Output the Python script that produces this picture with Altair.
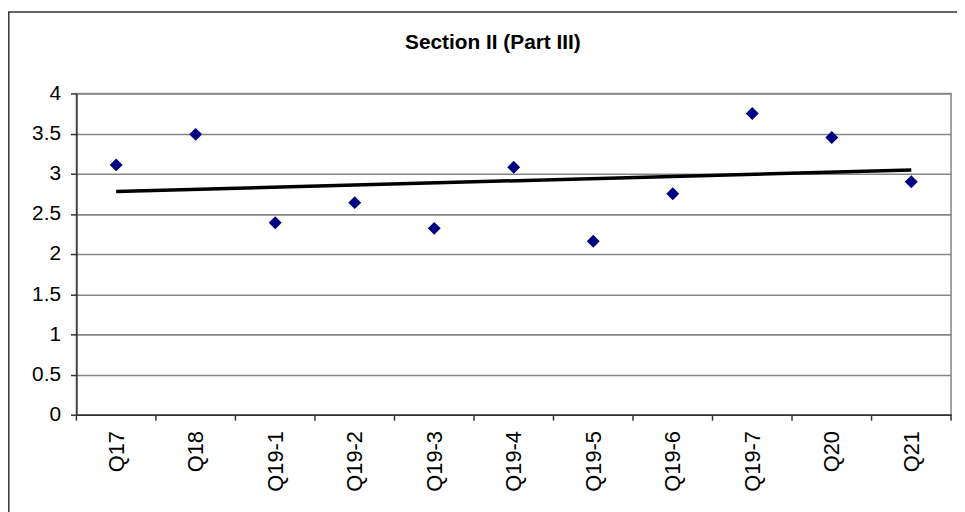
import altair as alt
import pandas as pd

# ---- data ----
categories = ["Q17", "Q18", "Q19-1", "Q19-2", "Q19-3", "Q19-4",
              "Q19-5", "Q19-6", "Q19-7", "Q20", "Q21"]
scores = [3.11, 3.49, 2.39, 2.64, 2.32, 3.08, 2.16, 2.75, 3.75, 3.45, 2.90]
y_ticks = [0, 0.5, 1, 1.5, 2, 2.5, 3, 3.5, 4]
chart_title = "Section II (Part III)"

n = len(categories)
df = pd.DataFrame({"idx": list(range(n)), "cat": categories, "score": scores})
bounds = pd.DataFrame({"b": [i - 0.5 for i in range(n + 1)]})
one = pd.DataFrame({"k": [0]})

FONT = "Liberation Sans"
DARK = "#333333"
GRID = "#868686"
W, H = 882, 324

label_expr = "[" + ",".join("'%s'" % c for c in categories) + "][datum.value]"

x_scale = alt.Scale(domain=[-0.5, n - 0.5], nice=False, zero=False)
y_scale = alt.Scale(domain=[0, 4], nice=False)

x_enc = alt.X(
    "idx:Q", scale=x_scale, title=None,
    axis=alt.Axis(values=list(range(n)), labelExpr=label_expr, labelAngle=270,
                  ticks=False, tickSize=0, labelPadding=16, grid=False,
                  labelOverlap=False, labelFlush=False,
                  domainColor=DARK, domainWidth=1.5,
                  labelFont=FONT, labelFontSize=22, labelColor="black"),
)
y_enc = alt.Y(
    "score:Q", scale=y_scale, title=None,
    axis=alt.Axis(values=y_ticks, format="~g", grid=True, gridColor=GRID,
                  gridWidth=1.6, tickSize=6, tickColor=DARK, tickWidth=1.5,
                  domainColor=DARK, domainWidth=1.5, labelPadding=10,
                  labelFont=FONT, labelFontSize=21, labelColor="black"),
)

frame = alt.Chart(one).mark_rect(filled=False, stroke=DARK, strokeWidth=1.5).encode(
    x=alt.value(-68.2), x2=alt.value(910), y=alt.value(-82), y2=alt.value(440)
)

title = alt.Chart(one).mark_text(
    text=chart_title, font=FONT, fontSize=21, fontWeight="bold",
    align="center", baseline="alphabetic", color="black"
).encode(x=alt.value(420), y=alt.value(-45))

ticks = alt.Chart(bounds).mark_rule(color=DARK, strokeWidth=1.5).encode(
    x=alt.X("b:Q", scale=x_scale), y=alt.value(H), y2=alt.value(H + 6)
)

points = alt.Chart(df).mark_point(
    shape="diamond", filled=True, size=170, color="#000080", opacity=1
).encode(x=x_enc, y=y_enc)

trend = alt.Chart(df).transform_regression("idx", "score").mark_line(
    color="black", strokeWidth=3.5
).encode(x=alt.X("idx:Q", scale=x_scale), y=alt.Y("score:Q", scale=y_scale))

chart = alt.layer(frame, title, points, trend, ticks).properties(
    width=W, height=H,
    autosize=alt.AutoSizeParams(type="none"),
    padding={"left": 69, "top": 84, "right": 6, "bottom": 96},
    background="white",
).configure_view(stroke=GRID, strokeWidth=1.5)

chart.save("out.html", embed_options={"renderer": "svg", "actions": False})
